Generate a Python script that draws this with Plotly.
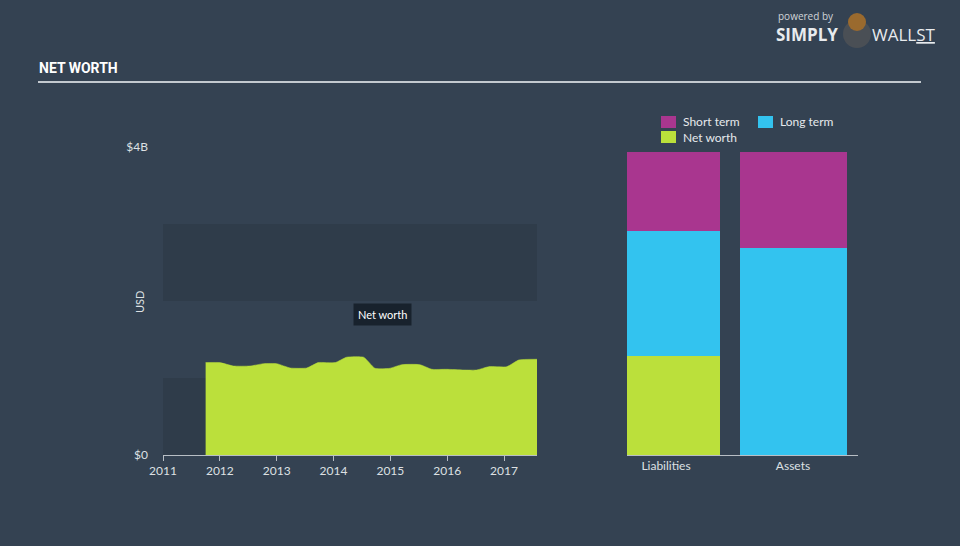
import plotly.graph_objects as go

# ---- data ----
years = [2011.75, 2012.0, 2012.24, 2012.53, 2012.77, 2013.0, 2013.24, 2013.53,
         2013.73, 2014.03, 2014.23, 2014.53, 2014.73, 2014.99, 2015.2, 2015.52,
         2015.73, 2015.99, 2016.29, 2016.52, 2016.73, 2017.05, 2017.26, 2017.58]
net_worth = [1.20, 1.20, 1.156, 1.156, 1.186, 1.186, 1.13, 1.13,
             1.20, 1.20, 1.27, 1.27, 1.126, 1.126, 1.173, 1.173,
             1.113, 1.113, 1.104, 1.104, 1.147, 1.147, 1.234, 1.243]
net_worth = [v * 1e9 for v in net_worth]

categories = ["Liabilities", "Assets"]
short_term = [1.03e9, 1.25e9]
long_term = [1.62e9, 2.69e9]
net_worth_bar = [1.29e9, 0.0]

year_ticks = [2011, 2012, 2013, 2014, 2015, 2016, 2017]
y_tickvals = [0, 4e9]
y_ticktext = ["$0", "$4B"]

# ---- styles ----
BG = "#344252"
BAND = "#2f3c4a"
GREEN = "#bbe03b"
CYAN = "#33c3ef"
MAGENTA = "#a9368f"
TXT = "#dde0e3"
AX = "#b8bec5"
FONT = "Lato"

W, H = 960, 546
def px_x(p):
    return p / W
def px_y(p):
    return 1 - p / H

x_end = 2017.58

fig = go.Figure()

fig.add_trace(go.Scatter(
    x=years, y=net_worth, mode="lines", fill="tozeroy",
    line=dict(color=GREEN, width=0.5, shape="spline", smoothing=0.5),
    fillcolor=GREEN, xaxis="x", yaxis="y", hoverinfo="skip", showlegend=False))

# bars (variable widths)
bar_centers = [673.5, 793.5]
bar_widths = [93, 107]
for name, vals, col in [("Net worth", net_worth_bar, GREEN),
                        ("Long term", long_term, CYAN),
                        ("Short term", short_term, MAGENTA)]:
    fig.add_trace(go.Bar(
        x=bar_centers, y=vals, width=bar_widths, name=name,
        marker=dict(color=col, line=dict(width=0)),
        xaxis="x2", yaxis="y2", showlegend=False, hoverinfo="skip"))

shapes = []
# bands
for y0, y1 in [(0, 1e9), (2e9, 3e9)]:
    shapes.append(dict(type="rect", xref="x", yref="y", x0=2011, x1=x_end,
                       y0=y0, y1=y1, fillcolor=BAND, line=dict(width=0),
                       layer="below"))
# title underline
shapes.append(dict(type="line", xref="paper", yref="paper",
                   x0=px_x(38), x1=px_x(921), y0=px_y(82), y1=px_y(82),
                   line=dict(color="#c3c9cf", width=2)))

annotations = []
# title
annotations.append(dict(text="<b>NET WORTH</b>", xref="paper", yref="paper",
                        x=px_x(37), y=px_y(68), xanchor="left", yanchor="middle",
                        showarrow=False,
                        font=dict(family="Roboto", size=14, color="#ffffff")))
# USD axis title
annotations.append(dict(text="USD", xref="paper", yref="paper",
                        x=px_x(139), y=px_y(302), textangle=-90,
                        xanchor="center", yanchor="middle",
                        showarrow=False, font=dict(family=FONT, size=11, color=TXT)))
# tooltip-like label
annotations.append(dict(text="Net worth", xref="x", yref="y",
                        x=2014.86, y=1.82e9, showarrow=False,
                        xanchor="center", yanchor="middle",
                        bgcolor="#18222d", borderpad=4,
                        font=dict(family=FONT, size=11, color="#ffffff")))

# legend (manual)
leg = [("Short term", MAGENTA, 661, 122), ("Long term", CYAN, 758, 122),
       ("Net worth", GREEN, 661, 137)]
for name, col, lx, ly in leg:
    shapes.append(dict(type="rect", xref="paper", yref="paper",
                       x0=px_x(lx), x1=px_x(lx + 15), y0=px_y(ly - 6), y1=px_y(ly + 6),
                       fillcolor=col, line=dict(width=0)))
    annotations.append(dict(text=name, xref="paper", yref="paper",
                            x=px_x(lx + 20), y=px_y(ly), xanchor="left", yanchor="middle",
                            showarrow=False, font=dict(family=FONT, size=12, color="#e6e9ec")))

# branding
annotations.append(dict(text="powered by", xref="paper", yref="paper",
                        x=px_x(776), y=px_y(16), xanchor="left", yanchor="middle",
                        showarrow=False, font=dict(family="Open Sans", size=10, color="#d0d4d8")))
annotations.append(dict(text="<b>SIMPLY</b>", xref="paper", yref="paper",
                        x=px_x(774), y=px_y(34), xanchor="left", yanchor="middle",
                        showarrow=False, font=dict(family="Open Sans", size=17, color="#e8ebee")))
annotations.append(dict(text="WALL<u>ST</u>", xref="paper", yref="paper",
                        x=px_x(870), y=px_y(34), xanchor="left", yanchor="middle",
                        showarrow=False, font=dict(family="Open Sans", size=17, color="#e8ebee")))
shapes.append(dict(type="circle", xref="paper", yref="paper",
                   x0=px_x(843), x1=px_x(871), y0=px_y(20), y1=px_y(48),
                   fillcolor="#4a4f55", line=dict(width=0)))
shapes.append(dict(type="circle", xref="paper", yref="paper",
                   x0=px_x(848), x1=px_x(866), y0=px_y(13), y1=px_y(31),
                   fillcolor="#9a6a2e", line=dict(width=0)))

fig.update_layout(
    template="none",
    width=W, height=H,
    margin=dict(l=0, r=0, t=0, b=0, pad=0),
    paper_bgcolor=BG, plot_bgcolor="rgba(0,0,0,0)",
    font=dict(family=FONT, size=12, color=TXT),
    showlegend=False, barmode="stack", bargap=0,
    shapes=shapes, annotations=annotations,
    xaxis=dict(domain=[px_x(163), px_x(537)], range=[2011, x_end],
               tickvals=year_ticks, ticktext=[str(y) for y in year_ticks],
               showgrid=False, zeroline=False, showline=True, linecolor=AX, linewidth=1,
               ticks="outside", ticklen=5, tickcolor=AX, automargin=False,
               tickfont=dict(family=FONT, size=12, color=TXT), anchor="y"),
    yaxis=dict(domain=[px_y(455), px_y(147)], range=[0, 4e9],
               tickvals=y_tickvals, ticktext=y_ticktext,
               showgrid=False, zeroline=False, showline=False, ticks="",
               ticklabelstandoff=14, automargin=False,
               tickfont=dict(family=FONT, size=12, color=TXT), anchor="x"),
    xaxis2=dict(domain=[px_x(627), px_x(858)], range=[627, 858],
                tickvals=[666, 793], ticktext=categories, automargin=False,
                showgrid=False, zeroline=False, showline=True, linecolor=AX, linewidth=1,
                ticks="", tickfont=dict(family=FONT, size=12, color=TXT), anchor="y2"),
    yaxis2=dict(domain=[px_y(455), px_y(147)], range=[0, 4e9], automargin=False,
                showgrid=False, zeroline=False, showline=False, showticklabels=False,
                anchor="x2"),
)

fig.write_html("out.html")
